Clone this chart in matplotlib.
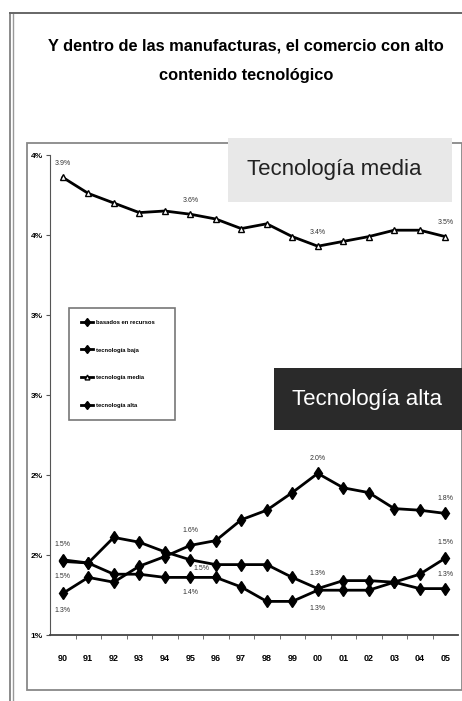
import numpy as np
import matplotlib
matplotlib.use("Agg")
from matplotlib import pyplot as plt
from matplotlib.patches import Rectangle
from matplotlib.lines import Line2D

# ---------------- data ----------------
years = list(range(1990, 2006))
year_labels = [str(y)[2:] for y in years]

recursos = [1.46, 1.45, 1.38, 1.38, 1.36, 1.36, 1.36, 1.30, 1.21, 1.21,
            1.28, 1.28, 1.28, 1.33, 1.38, 1.48]
baja = [1.47, 1.45, 1.61, 1.58, 1.52, 1.47, 1.44, 1.44, 1.44, 1.36,
        1.29, 1.34, 1.34, 1.33, 1.29, 1.29]
media = [3.86, 3.76, 3.70, 3.64, 3.65, 3.63, 3.60, 3.54, 3.57, 3.49,
         3.43, 3.46, 3.49, 3.53, 3.53, 3.49]
alta = [1.26, 1.36, 1.33, 1.43, 1.49, 1.56, 1.59, 1.72, 1.78, 1.89,
        2.01, 1.92, 1.89, 1.79, 1.78, 1.76]

series_names = ["basados en recursos", "tecnología baja", "tecnología media", "tecnología alta"]
y_ticks = [1.0, 1.5, 2.0, 2.5, 3.0, 3.5, 4.0]
y_tick_labels = ["1%", "2%", "2%", "3%", "3%", "4%", "4%"]
labelled_years = [1990, 1995, 2000, 2005]

title = "Y dentro de las manufacturas, el comercio con alto\ncontenido tecnológico"

W, H = 462, 701
sans = ["Liberation Sans", "DejaVu Sans"]


def fx(px):
    return px / W


def fy(py):
    # pixel row measured from the top -> figure fraction
    return 1 - py / H


fig = plt.figure(figsize=(W / 100, H / 100), dpi=100)
fig.patch.set_facecolor("white")

# outer frame lines
fig.add_artist(Line2D([fx(10), fx(10)], [fy(13), fy(701)], color="#777777", lw=1.2))
fig.add_artist(Line2D([fx(13), fx(13)], [fy(13), fy(701)], color="#999999", lw=1.0))
fig.add_artist(Line2D([fx(10), fx(462)], [fy(13), fy(13)], color="#666666", lw=1.4))

# inner chart box
fig.add_artist(Rectangle((fx(27), fy(690)), fx(462 - 27), (690 - 143) / H,
                         transform=fig.transFigure, fill=False,
                         edgecolor="#888888", lw=1.3))

fig.text(fx(246), fy(61), title, ha="center", va="center", fontsize=11.8,
         fontweight="bold", family=sans, linespacing=2.2)

# plot area
ax = fig.add_axes([fx(50), fy(635), fx(458 - 50), (635 - 155) / H])
ax.set_facecolor("none")
ax.set_xlim(1989.5, 2005.5)
ax.set_ylim(1.0, 4.0)

line_kw = dict(color="black", lw=2.0)
ax.plot(years, recursos, marker="d", ms=6.5, mfc="black", mec="black", **line_kw)
ax.plot(years, baja, marker="d", ms=6.5, mfc="black", mec="black", **line_kw)
ax.plot(years, media, marker="^", ms=5, mfc="white", mec="black", mew=1.0, **line_kw)
ax.plot(years, alta, marker="d", ms=6.5, mfc="black", mec="black", **line_kw)

# data labels at the start, middle and end years
offsets = {
    "recursos": [(0, -11), (0, -11), (0, -13), (0, 11)],
    "baja": [(0, 11), (8, -6), (0, 11), (0, 10)],
    "media": [(0, 10), (0, 10), (0, 10), (0, 10)],
    "alta": [(0, -12), (0, 11), (0, 11), (0, 11)],
}
data = {"recursos": recursos, "baja": baja, "media": media, "alta": alta}
for key, vals in data.items():
    for yr, (dx, dy) in zip(labelled_years, offsets[key]):
        v = vals[years.index(yr)]
        ax.annotate(f"{v:.1f}%", (yr, v), xytext=(dx, dy), textcoords="offset points",
                    ha="center", va="center", fontsize=5, color="#333333",
                    family=sans)

ax.set_yticks(y_ticks)
ax.set_yticklabels(y_tick_labels, fontsize=6, fontweight="bold", family=sans)
ax.set_xticks(years)
ax.set_xticklabels(year_labels, fontsize=6.5, fontweight="bold", family=sans)
ax.set_xticks(np.arange(1990.5, 2005.5, 1), minor=True)
ax.tick_params(axis="x", which="major", length=0, pad=14)
ax.tick_params(axis="x", which="minor", length=3, direction="out", color="#555555")
ax.tick_params(axis="y", length=3, direction="out", pad=2, color="#555555")

for side in ["top", "right"]:
    ax.spines[side].set_visible(False)
ax.spines["left"].set_color("#555555")
ax.spines["bottom"].set_color("#444444")
ax.spines["bottom"].set_linewidth(1.3)

# legend box
leg_x0, leg_x1, leg_y0, leg_y1 = 66, 178, 305, 422
leg = fig.legend(ax.get_lines(), series_names,
                 bbox_to_anchor=(fx(leg_x0), fy(leg_y1), fx(leg_x1 - leg_x0), (leg_y1 - leg_y0) / H),
                 bbox_transform=fig.transFigure, loc="upper left", mode="expand",
                 prop={"family": sans, "size": 4.2, "weight": "bold"},
                 frameon=True, fancybox=False, edgecolor="#555555",
                 handlelength=2.2, handletextpad=0.4, labelspacing=3.9,
                 borderpad=2.0, markerscale=0.7)
leg.get_frame().set_linewidth(1.2)

# labelled boxes
fig.add_artist(Rectangle((fx(228), fy(202)), fx(452 - 228), (202 - 138) / H,
                         transform=fig.transFigure, facecolor="#e8e8e8", edgecolor="none"))
fig.text(fx(334), fy(170), "Tecnología media", ha="center", va="center",
         fontsize=16, family=sans, color="#222222")

fig.add_artist(Rectangle((fx(274), fy(430)), fx(462 - 274), (430 - 368) / H,
                         transform=fig.transFigure, facecolor="#2a2a2a", edgecolor="none"))
fig.text(fx(367), fy(400), "Tecnología alta", ha="center", va="center",
         fontsize=16, family=sans, color="white")

fig.savefig("out.png", dpi=100)
